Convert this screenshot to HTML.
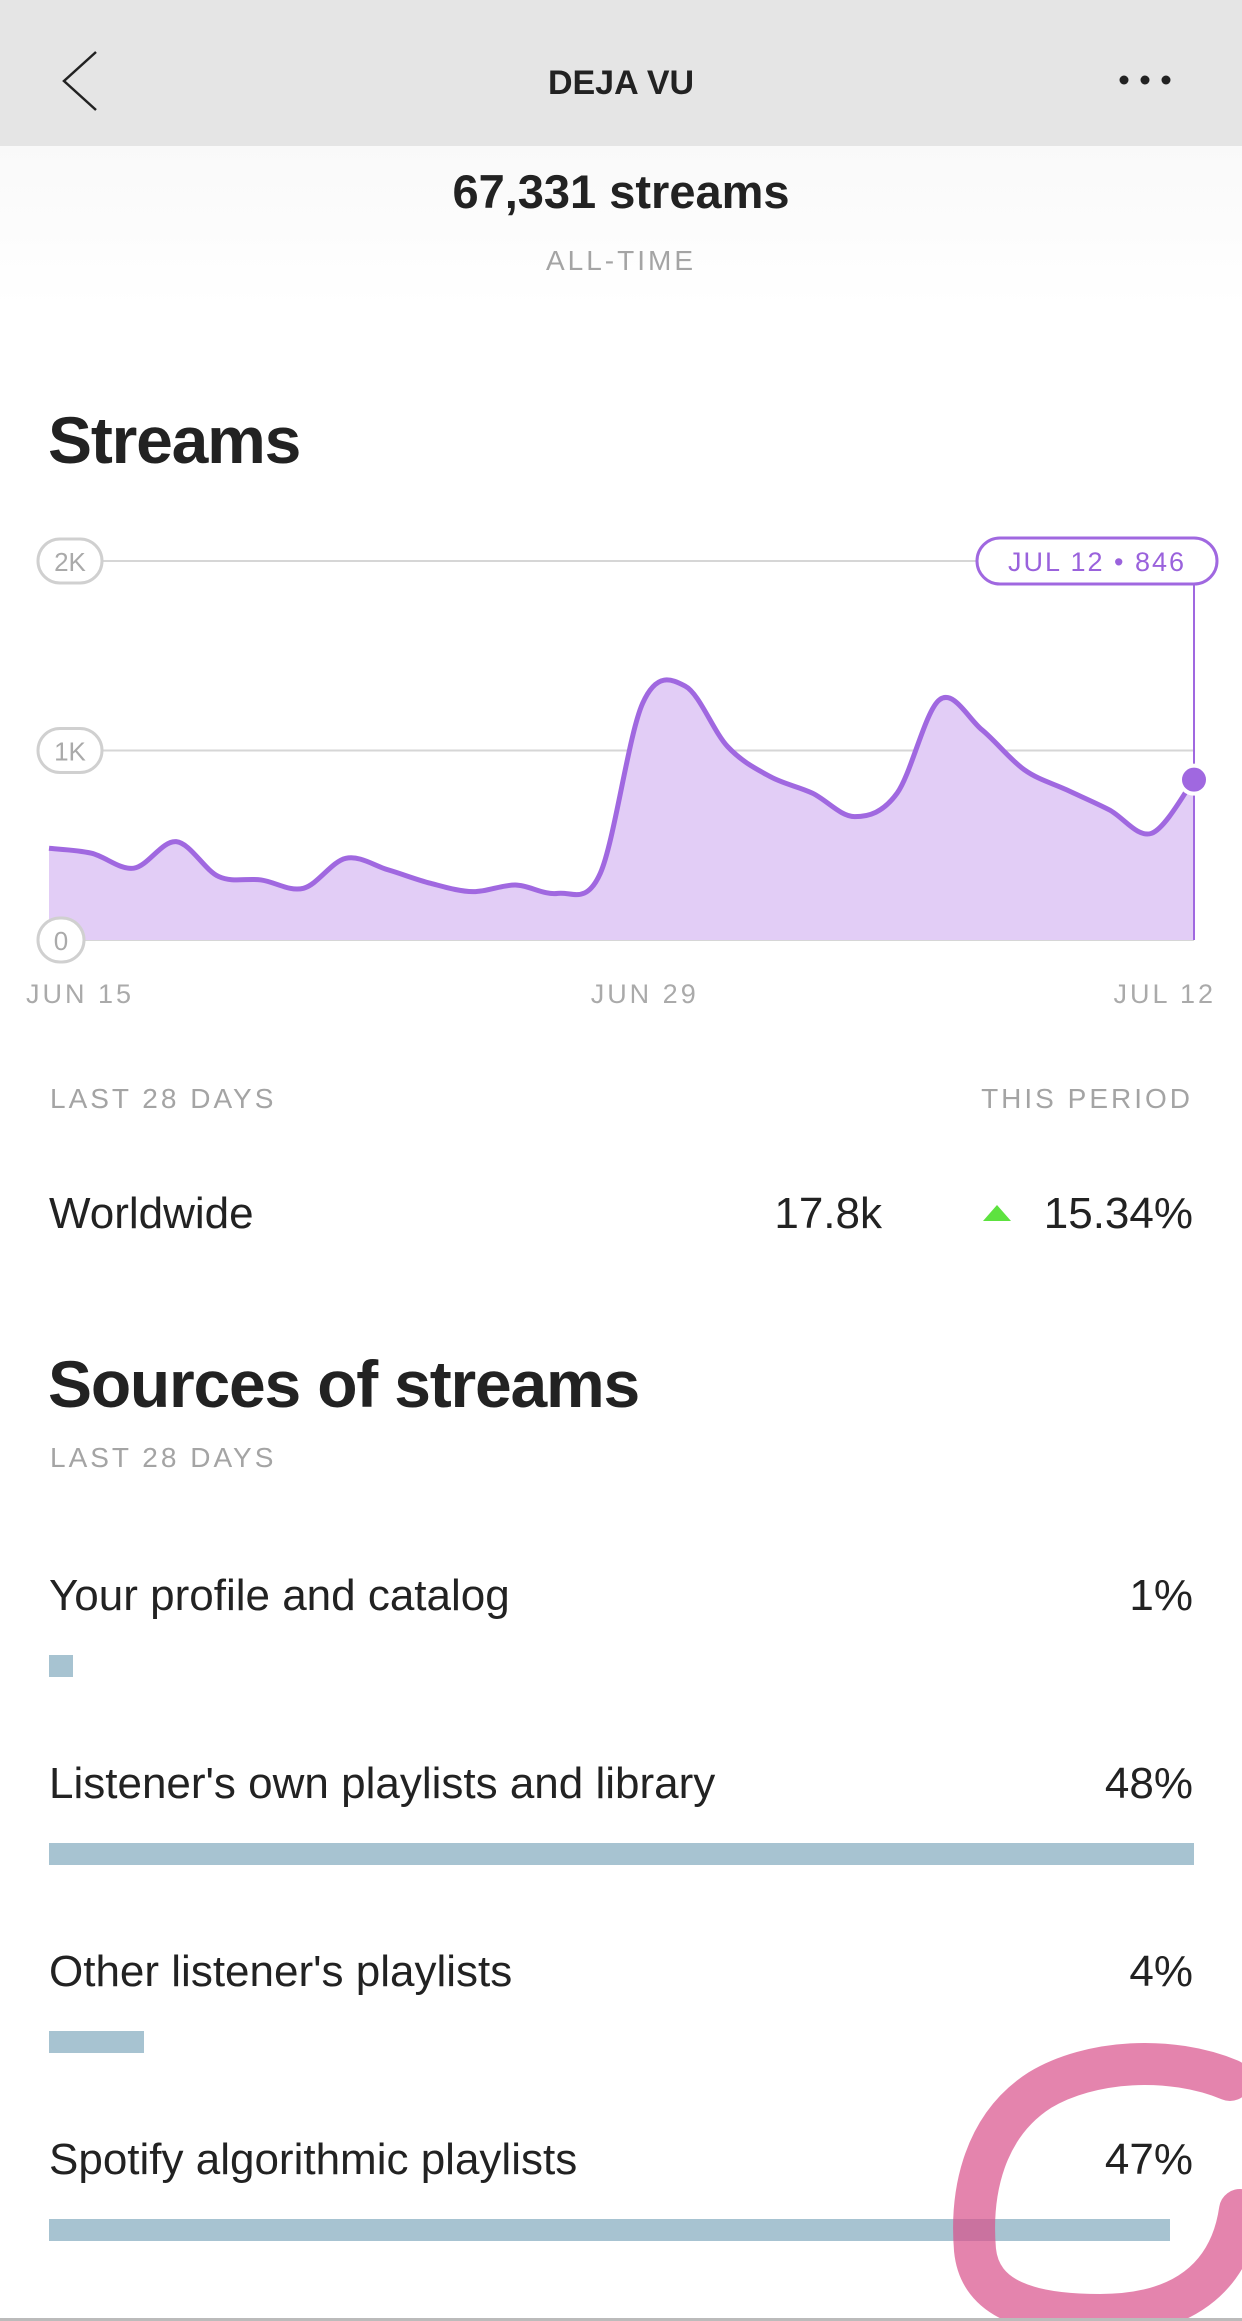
<!DOCTYPE html>
<html><head><meta charset="utf-8">
<style>
*{margin:0;padding:0;box-sizing:border-box}
body{width:1242px;height:2321px;background:#fff;font-family:"Liberation Sans",sans-serif;color:#222;position:relative;overflow:hidden}
.abs{position:absolute}
.hdr{left:0;top:0;width:1242px;height:146px;background:#e5e5e5}
.grad{left:0;top:146px;width:1242px;height:160px;background:linear-gradient(#f9f9f9,#fff)}
.cap{font-size:28px;color:#a4a4a4;letter-spacing:3px}
.big{font-size:44px;color:#222}
.h2{font-size:66px;font-weight:bold;letter-spacing:-1.2px;color:#222}
.bar{position:absolute;height:22px;background:#a7c3d1;left:49px}
</style></head><body>
<div class="abs hdr"></div>
<div class="abs grad"></div>
<svg class="abs" style="left:58px;top:48px" width="50" height="66"><polyline points="38,4 6,33 38,62" fill="none" stroke="#222" stroke-width="2.5"/></svg>
<div class="abs" style="left:0;width:1242px;top:64px;text-align:center;font-size:34px;font-weight:bold;color:#222">DEJA VU</div>
<svg class="abs" style="left:1118px;top:70px" width="56" height="20"><circle cx="6" cy="10" r="4.5" fill="#222"/><circle cx="27" cy="10" r="4.5" fill="#222"/><circle cx="48" cy="10" r="4.5" fill="#222"/></svg>
<div class="abs" style="left:0;width:1242px;top:164px;text-align:center;font-size:47px;font-weight:bold;color:#222">67,331 streams</div>
<div class="abs cap" style="left:0;width:1242px;top:245px;text-align:center">ALL-TIME</div>
<div class="abs h2" style="left:48px;top:402px">Streams</div>

<svg id="chart" class="abs" style="left:0;top:520px" width="1242" height="500"></svg>

<div class="abs cap" style="left:50px;top:1083px">LAST 28 DAYS</div>
<div class="abs cap" style="right:49px;top:1083px">THIS PERIOD</div>
<div class="abs big" style="left:49px;top:1189px">Worldwide</div>
<div class="abs big" style="right:360px;top:1189px">17.8k</div>
<svg class="abs" style="left:982px;top:1203px" width="30" height="20"><polygon points="15,2 29,18 1,18" fill="#5de23f"/></svg>
<div class="abs big" style="right:49px;top:1189px">15.34%</div>

<div class="abs h2" style="left:48px;top:1346px">Sources of streams</div>
<div class="abs cap" style="left:50px;top:1442px">LAST 28 DAYS</div>
<div id="sources"></div>

<svg class="abs" style="left:940px;top:2010px" width="302" height="311">
<path d="M290,70 C230,45 150,50 100,80 C45,115 30,180 35,240 C40,290 90,305 160,305 C240,305 290,270 300,200" fill="none" stroke="#d9508a" stroke-opacity="0.7" stroke-width="42" stroke-linecap="round"/>
</svg>
<div class="abs" style="left:0;top:2318px;width:1242px;height:3px;background:#bbb"></div>

<script>
const days = ["JUN 15","JUN 16","JUN 17","JUN 18","JUN 19","JUN 20","JUN 21","JUN 22","JUN 23","JUN 24","JUN 25","JUN 26","JUN 27","JUN 28","JUN 29","JUN 30","JUL 1","JUL 2","JUL 3","JUL 4","JUL 5","JUL 6","JUL 7","JUL 8","JUL 9","JUL 10","JUL 11","JUL 12"];
const streams = [484,458,379,519,335,317,273,431,370,299,255,290,246,352,1250,1340,1021,863,775,651,775,1268,1109,898,792,687,563,846];
const yTicks = [0,1000,2000];
const yTickLabels = ["0","1K","2K"];
const xTickIdx = [0,14,27];
const xTickLabels = ["JUN 15","JUN 29","JUL 12"];
const sourceNames = ["Your profile and catalog","Listener's own playlists and library","Other listener's playlists","Spotify algorithmic playlists"];
const sourcePct = [1,48,4,47];

const NS="http://www.w3.org/2000/svg";
const svg=document.getElementById('chart');
const X0=49,X1=1194,Y0=420,YK=189.5;
const xs=i=>X0+(X1-X0)*i/(streams.length-1);
const ys=v=>Y0-v/1000*YK;
function mk(t,a){const e=document.createElementNS(NS,t);for(const k in a)e.setAttribute(k,a[k]);svg.appendChild(e);return e;}
yTicks.forEach((t,i)=>{
  const g=mk('line',{x1:X0,x2:X1,y1:ys(t),y2:ys(t),stroke:'#d6d6d6','stroke-width':2});
  
  
});
const pts=streams.map((v,i)=>[xs(i),ys(v)]);
let d='M'+pts[0][0]+','+pts[0][1];
for(let i=0;i<pts.length-1;i++){
  const p0=pts[Math.max(0,i-1)],p1=pts[i],p2=pts[i+1],p3=pts[Math.min(pts.length-1,i+2)];
  const c1=[p1[0]+(p2[0]-p0[0])/6,p1[1]+(p2[1]-p0[1])/6];
  const c2=[p2[0]-(p3[0]-p1[0])/6,p2[1]-(p3[1]-p1[1])/6];
  d+=`C${c1[0]},${c1[1]} ${c2[0]},${c2[1]} ${p2[0]},${p2[1]}`;
}
const area=mk('path',{d:d+`L${X1},${Y0}L${X0},${Y0}Z`,fill:'#e2cdf6'});


const line=mk('path',{d:d,fill:'none',stroke:'#a068e0','stroke-width':5});


yTicks.forEach((t,i)=>{
  const w=yTickLabels[i].length>1?64:46;
  const r=mk('rect',{x:38,y:ys(t)-22,width:w,height:44,rx:22,fill:'#fff',stroke:'#d0d0d0','stroke-width':3});
  
  
  const tx=mk('text',{x:38+w/2,y:ys(t)+10,'text-anchor':'middle','font-size':26,fill:'#aaa','font-family':'Liberation Sans'});
  tx.textContent=yTickLabels[i];
  
  
});
xTickIdx.forEach((idx,i)=>{
  const anchor=i===0?'start':i===xTickIdx.length-1?'end':'middle';
  const xx=i===0?26:i===xTickIdx.length-1?1216:xs(idx)+2;
  const tx=mk('text',{x:xx,y:483,'text-anchor':anchor,'font-size':27,fill:'#aaa','letter-spacing':3,'font-family':'Liberation Sans'});
  tx.textContent=xTickLabels[i];
  
  
});
const li=streams.length-1;
const vl=mk('line',{x1:xs(li),x2:xs(li),y1:ys(2000)+20,y2:Y0,stroke:'#a068e0','stroke-width':2});


const tp=mk('rect',{x:977,y:ys(2000)-23,width:240,height:46,rx:23,fill:'#fff',stroke:'#a068e0','stroke-width':3});


const tt=mk('text',{x:1097,y:ys(2000)+10,'text-anchor':'middle','font-size':27,fill:'#9a62dc','letter-spacing':2,'font-family':'Liberation Sans'});
tt.textContent=days[li]+' • '+streams[li];


const dot=mk('circle',{cx:xs(li),cy:ys(streams[li]),r:14,fill:'#a068e0',stroke:'#fff','stroke-width':4});



const box=document.getElementById('sources');
const maxPct=Math.max(...sourcePct);
sourceNames.forEach((n,i)=>{
  const top=1571+i*188;
  const a=document.createElement('div');a.className='abs big';a.style.left='49px';a.style.top=top+'px';a.textContent=n;
  
  
  box.appendChild(a);
  const b=document.createElement('div');b.className='abs big';b.style.right='49px';b.style.top=top+'px';b.textContent=sourcePct[i]+'%';
  
  
  box.appendChild(b);
  const c=document.createElement('div');c.className='bar';c.style.top=(top+84)+'px';c.style.width=Math.max(22,sourcePct[i]/maxPct*1145)+'px';
  
  
  box.appendChild(c);
});
</script>
</body></html>
